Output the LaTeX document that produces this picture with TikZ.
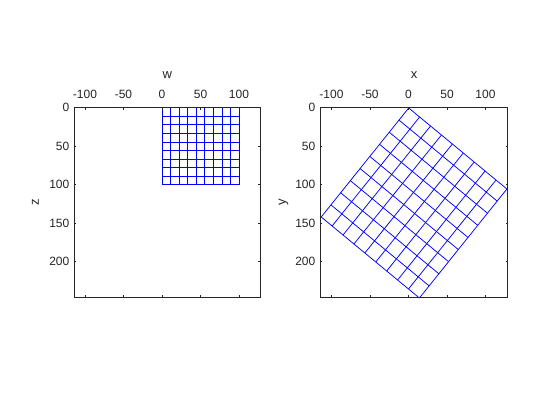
\documentclass[tikz,border=0pt]{standalone}
\usepackage{fontspec}
\setmainfont{Liberation Sans}
\usetikzlibrary{calc}
\definecolor{axcol}{rgb}{0.15,0.15,0.15}
\begin{document}
\begin{tikzpicture}[x=1pt,y=-1pt,
  ticklabel/.style={font=\fontsize{12}{12}\selectfont, text=axcol, inner sep=0pt},
  axlabel/.style={font=\fontsize{13}{13}\selectfont, text=axcol, inner sep=0pt},
  axbox/.style={draw=axcol, line width=0.6pt},
  tickmark/.style={draw=axcol, line width=0.6pt},
  gridline/.style={draw=blue, line width=0.75pt}]
\useasboundingbox[fill=white] (0,0) rectangle (560,420);

% ---------------- left axes ----------------
\foreach \i in {0,...,9}{
  \draw[gridline] ({162+\i*77/9},107.7) -- ({162+\i*77/9},184.7);
  \draw[gridline] (162,{107.7+\i*77/9}) -- (239,{107.7+\i*77/9});
}
\draw[axbox] (74.3,107.7) rectangle (260,297.3);
\foreach \x/\t [count=\k] in {85/-100,123.5/-50,162/0,200.5/50,239/100}{
  \draw[tickmark] (\x,107.7) -- (\x,109.7);
  \draw[tickmark] (\x,297.3) -- (\x,295.3);
  \node[ticklabel] (lxt\k) at (\x,94.5) {\t};
}
\foreach \y/\t [count=\k] in {107.7/0,146.2/50,184.7/100,223.2/150,261.7/200}{
  \draw[tickmark] (74.3,\y) -- (76.3,\y);
  \draw[tickmark] (260,\y) -- (258,\y);
  \node[ticklabel, anchor=east] (lyt\k) at (69.5,\y) {\t};
}
\node[axlabel] (wlab) at (167.2,75.5) {w};
\node[axlabel, rotate=90] (zlab) at (35.5,202.5) {z};

% ---------------- right axes ----------------
\coordinate (T) at (408.7,108);
\coordinate (R) at (506.9,189);
\coordinate (L) at (321.2,217);
\coordinate (B) at (419.4,298);
\foreach \i in {0,...,9}{
  \draw[gridline] ($(T)!\i/9!(R)$) -- ($(L)!\i/9!(B)$);
  \draw[gridline] ($(T)!\i/9!(L)$) -- ($(R)!\i/9!(B)$);
}
\draw[axbox] (320.3,107.7) rectangle (507.7,297.3);
\foreach \x/\t [count=\k] in {331.5/-100,370/-50,408.5/0,447/50,485.5/100}{
  \draw[tickmark] (\x,107.7) -- (\x,109.7);
  \draw[tickmark] (\x,297.3) -- (\x,295.3);
  \node[ticklabel] (rxt\k) at (\x,94.5) {\t};
}
\foreach \y/\t [count=\k] in {107.7/0,146.2/50,184.7/100,223.2/150,261.7/200}{
  \draw[tickmark] (320.3,\y) -- (322.3,\y);
  \draw[tickmark] (507.7,\y) -- (505.7,\y);
  \node[ticklabel, anchor=east] (ryt\k) at (315.5,\y) {\t};
}
\node[axlabel] (xlab) at (414,75.5) {x};
\node[axlabel, rotate=90] (ylab) at (283.5,202.5) {y};
\end{tikzpicture}
\end{document}
